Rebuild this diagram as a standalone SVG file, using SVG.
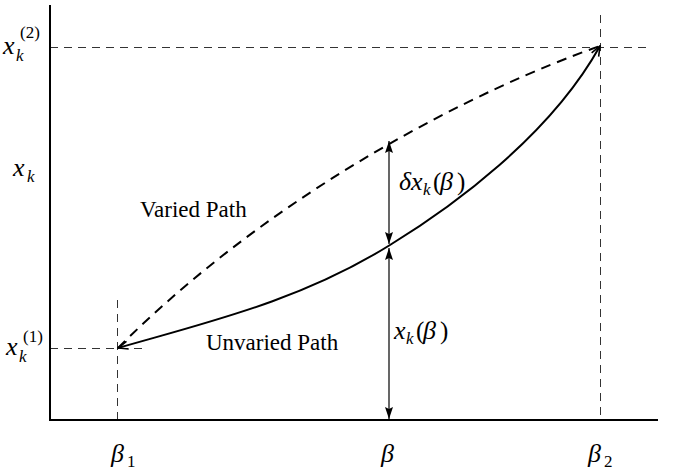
<svg xmlns="http://www.w3.org/2000/svg" width="674" height="472" viewBox="0 0 674 472">
<style>
.axis{stroke:#000;stroke-width:2;fill:none}
.guide{stroke:#333;stroke-width:1;stroke-dasharray:8,6;fill:none}
.solid{stroke:#000;stroke-width:2;fill:none}
.dash{stroke:#000;stroke-width:2;fill:none;stroke-dasharray:10,7}
.dim{stroke:#000;stroke-width:1.2;fill:none}
text{font-family:"Liberation Serif","Times New Roman",serif;fill:#000}
.t{font-size:23px}
.m{font-size:26px;font-style:italic}
.up{font-size:25px}
.s{font-size:17px;font-style:italic}
.su{font-size:17px}
</style>
<defs>
<marker id="fill" markerUnits="userSpaceOnUse" markerWidth="12" markerHeight="8" refX="12" refY="4" orient="auto-start-reverse" viewBox="0 0 12 8">
<path d="M0,0 L12,4 L0,8 L2,4 z" fill="#000"/>
</marker>
<marker id="open" markerUnits="userSpaceOnUse" markerWidth="12" markerHeight="10" refX="11" refY="5" orient="auto-start-reverse" viewBox="0 0 12 10">
<path d="M1,1 L11,5 L1,9" fill="none" stroke="#000" stroke-width="1.6"/>
</marker>
</defs>
<g id="guides">
<line class="guide" x1="50" y1="47.5" x2="650" y2="47.5"/>
<line class="guide" x1="50" y1="348.5" x2="146" y2="348.5"/>
<line class="guide" x1="117.5" y1="300" x2="117.5" y2="420"/>
<line class="guide" x1="600.5" y1="15" x2="600.5" y2="420"/>
</g>
<g id="axes">
<line class="axis" x1="50" y1="5" x2="50" y2="421"/>
<line class="axis" x1="49" y1="420" x2="658" y2="420"/>
</g>
<g id="connectors">
<path id="unvaried" class="solid" d="M118,348 C208,322 300,301 390,245 C452,207 550,136 600,46" marker-start="url(#open)" marker-end="url(#open)"/>
<path id="varied" class="dash" d="M118,348 C278,188 480,88 600,46"/>
<line id="delta-arrow" class="dim" x1="389" y1="141" x2="389" y2="244" marker-start="url(#fill)" marker-end="url(#fill)"/>
<line id="x-arrow" class="dim" x1="389" y1="248" x2="389" y2="419" marker-start="url(#fill)" marker-end="url(#fill)"/>
</g>
<g id="labels">
<text class="t" x="140" y="217">Varied Path</text>
<text class="t" x="206" y="350">Unvaried Path</text>
<g id="lbl-xk2"><text class="m" x="3" y="54">x</text><text class="s" x="16" y="61">k</text><text class="su" x="20" y="38">(2)</text></g>
<g id="lbl-xk"><text class="m" x="13" y="176">x</text><text class="s" x="27" y="182">k</text></g>
<g id="lbl-xk1"><text class="m" x="6" y="355">x</text><text class="s" x="19" y="362">k</text><text class="su" x="23" y="342">(1)</text></g>
<g id="lbl-dx"><text class="m" x="399" y="190">δ</text><text class="m" x="411" y="190">x</text><text class="s" x="423" y="195">k</text><text class="up" x="433" y="190">(</text><text class="m" x="440" y="190">β</text><text class="up" x="457" y="190">)</text></g>
<g id="lbl-x"><text class="m" x="394" y="339">x</text><text class="s" x="406" y="344">k</text><text class="up" x="416" y="339">(</text><text class="m" x="423" y="339">β</text><text class="up" x="440" y="339">)</text></g>
<g id="lbl-b1"><text class="m" x="111" y="462">β</text><text class="su" x="127" y="467">1</text></g>
<g id="lbl-b"><text class="m" x="381" y="462">β</text></g>
<g id="lbl-b2"><text class="m" x="588" y="462">β</text><text class="su" x="604" y="467">2</text></g>
</g>
</svg>
